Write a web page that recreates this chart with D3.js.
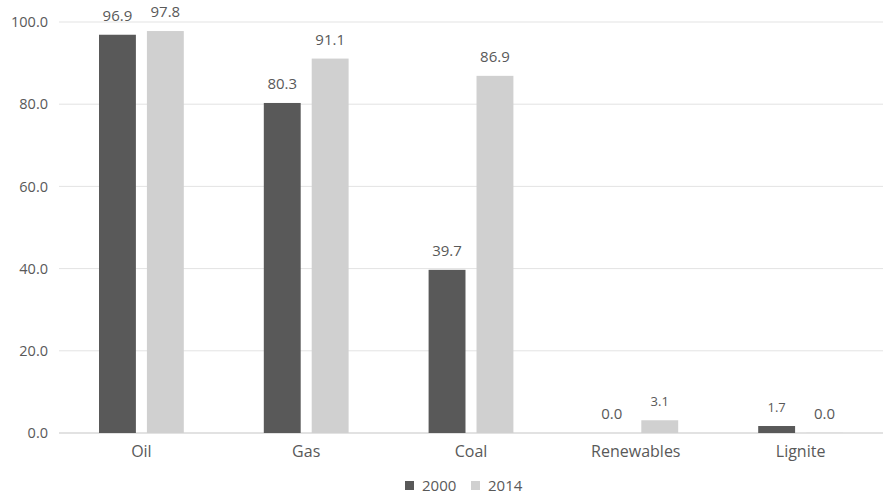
<!DOCTYPE html>
<html>
<head>
<meta charset="utf-8">
<script src="https://cdn.jsdelivr.net/npm/d3@7"></script>
<style>
  body { margin: 0; background: #fff; }
  svg text { font-family: "Open Sans", "Noto Sans", sans-serif; fill: #595959; }
</style>
</head>
<body>
<svg id="chart" width="887" height="494"></svg>
<script>
// Categories and series
const categories = ["Oil", "Gas", "Coal", "Renewables", "Lignite"];
const seriesNames = ["2000", "2014"];
const values2000 = [96.9, 80.3, 39.7, 0.0, 1.7];
const values2014 = [97.8, 91.1, 86.9, 3.1, 0.04];
const yTicks = [0, 20, 40, 60, 80, 100];
const colors = ["#595959", "#d0d0d0"];

const svg = d3.select("#chart");
const margin = { left: 59, right: 4, top: 22, bottom: 61 };
const W = 887, H = 494;

const x = d3.scaleBand().domain(categories).range([margin.left, W - margin.right]).paddingInner(0).paddingOuter(0);
const y = d3.scaleLinear().domain([0, 100]).range([H - margin.bottom, margin.top]);
const xs = d3.scaleBand().domain(seriesNames).range([40, x.bandwidth() - 40]).paddingInner(0.23);

// Gridlines
svg.append("g").selectAll("line").data(yTicks).join("line")
  .attr("x1", margin.left).attr("x2", W - margin.right)
  .attr("y1", d => y(d)).attr("y2", d => y(d))
  .attr("stroke", d => d === 0 ? "#d9d9d9" : "#e3e3e3")
  .attr("stroke-width", d => d === 0 ? 1.5 : 1);

// Y axis labels
const yAxis = d3.axisLeft(y).tickValues(yTicks).tickFormat(d => d.toFixed(1)).tickSize(0).tickPadding(11);
const ya = svg.append("g").attr("transform", `translate(${margin.left},0)`).call(yAxis);
ya.select(".domain").remove();
ya.selectAll("text").attr("font-size", 14.5).style("font-family", '"Open Sans", sans-serif').attr("fill", "#595959");

// X axis labels
const xAxis = d3.axisBottom(x).tickSize(0).tickPadding(13);
const xa = svg.append("g").attr("transform", `translate(0,${y(0)})`).call(xAxis);
xa.select(".domain").remove();
xa.selectAll("text").attr("font-size", 16).style("font-family", '"Open Sans", sans-serif').attr("fill", "#595959");

// Bars
const rows = categories.map((c, i) => ({ cat: c, vals: [values2000[i], values2014[i]] }));
const groups = svg.append("g").selectAll("g").data(rows).join("g")
  .attr("transform", d => `translate(${x(d.cat)},0)`);

groups.selectAll("rect").data(d => d.vals.map((v, j) => ({ v, s: seriesNames[j], j }))).join("rect")
  .attr("x", d => xs(d.s)).attr("width", xs.bandwidth())
  .attr("y", d => y(d.v)).attr("height", d => y(0) - y(d.v))
  .attr("fill", d => colors[d.j]);

// Data labels
groups.selectAll("text.lbl").data(d => d.vals.map((v, j) => ({ v, s: seriesNames[j], j }))).join("text")
  .attr("class", "lbl")
  .attr("x", d => xs(d.s) + xs.bandwidth() / 2)
  .attr("y", d => y(d.v) - 14)
  .attr("text-anchor", "middle")
  .attr("font-size", d => (d.v > 1 && d.v < 10) ? 13 : 15)
  .text(d => d.v.toFixed(1));

// Legend
const legend = svg.append("g").attr("transform", "translate(405,485)");
const legendItems = [{ name: seriesNames[0], x: 0 }, { name: seriesNames[1], x: 66 }];
legendItems.forEach((it, i) => {
  legend.append("rect").attr("x", it.x).attr("y", -4).attr("width", 9).attr("height", 9).attr("fill", colors[i]);
  legend.append("text").attr("x", it.x + 17).attr("y", 5.5).attr("font-size", 15).text(it.name);
});
</script>
</body>
</html>
